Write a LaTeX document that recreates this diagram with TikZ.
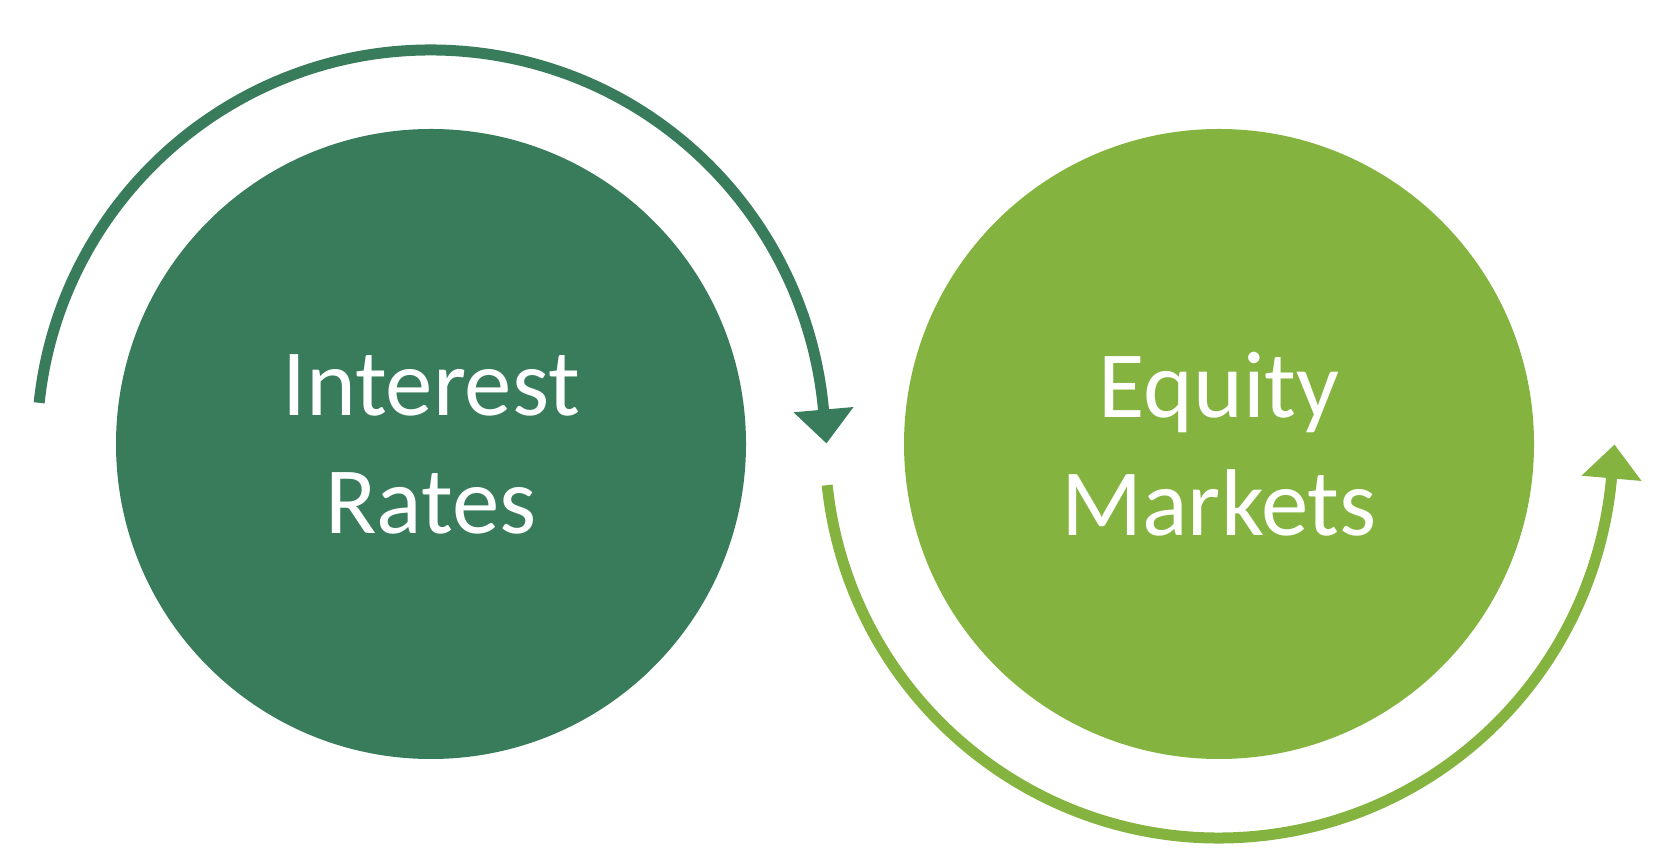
\documentclass[tikz,border=0pt]{standalone}
\usepackage{fontspec}
\setmainfont{Carlito}
\usetikzlibrary{arrows.meta}
\definecolor{ratesgreen}{RGB}{56,124,92}
\definecolor{equitygreen}{RGB}{132,180,63}
\tikzset{
  bubble/.style={circle, minimum size=6.30cm, inner sep=0pt, draw=none, text=white, align=center, font=\fontsize{27}{33.6}\selectfont},
  loop/.style={line width=0.11cm, line cap=butt, shorten >=-0.34cm, -{Triangle[width=0.58cm, length=0.34cm]}},
}

\begin{document}
\begin{tikzpicture}
\useasboundingbox (0,0) rectangle (16.58,8.52);
\node[bubble, fill=ratesgreen] (rates) at (4.31,4.08) {Interest\\Rates};
\node[bubble, fill=equitygreen] (equity) at (12.19,4.08) {Equity\\Markets};
\draw[loop, ratesgreen] ([shift={(174:3.94)}]rates.center) arc[start angle=174, end angle=5, radius=3.94];
\draw[loop, equitygreen] ([shift={(186:3.94)}]equity.center) arc[start angle=186, end angle=355, radius=3.94];
\end{tikzpicture}
\end{document}
